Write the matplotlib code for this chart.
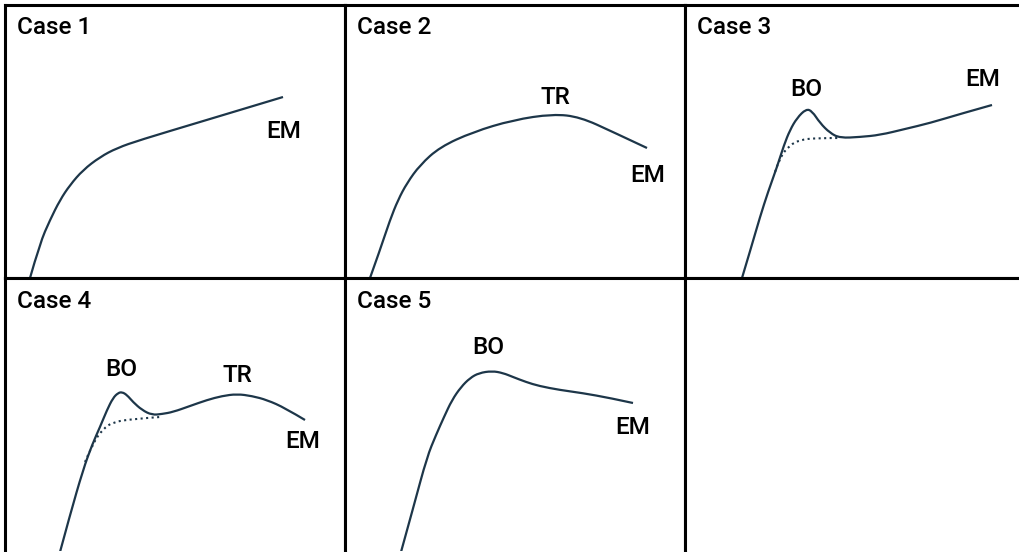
import matplotlib.pyplot as plt
from matplotlib.path import Path
from matplotlib.patches import PathPatch
import numpy as np

# curve points, in pixel units inside each panel (y grows downward)
case1_x = [25, 35, 45, 55, 65, 78, 95, 112, 135, 195, 278]
case1_y = [273, 238, 215, 195, 180, 165, 152, 143, 135, 117, 92]

case2_x = [25, 35, 45, 53, 62, 75, 95, 128, 168, 208, 235, 268, 302]
case2_y = [273, 245, 215, 195, 178, 160, 142, 127, 115, 109, 112, 127, 143]

case3_x = [57, 66, 75, 83, 92, 99, 105, 112, 121, 127, 135, 145, 155, 175, 195, 220, 245, 275, 307]
case3_y = [273, 243, 212, 187, 162, 140, 125, 113, 104, 106, 118, 128, 133, 132, 130, 124, 118, 109, 100]
case3_dot_x = [90, 95, 105, 115, 130, 155]
case3_dot_y = [167, 152, 140, 135, 133, 133]

case4_x = [55, 65, 78, 87, 95, 102, 108, 113, 117, 122, 128, 137, 147, 157, 168, 185, 202, 217, 232, 247, 262, 280, 300]
case4_y = [274, 237, 192, 167, 149, 132, 120, 115, 114, 117, 124, 132, 137, 136, 134, 128, 122, 118, 116, 118, 122, 130, 142]
case4_dot_x = [80, 88, 98, 108, 128, 155]
case4_dot_y = [184, 165, 151, 144, 141, 139]

case5_x = [56, 69, 82, 91, 99, 107, 116, 125, 134, 147, 158, 168, 181, 194, 215, 237, 265, 288]
case5_y = [274, 227, 179, 157, 139, 122, 109, 100, 95, 93, 95, 99, 104, 108, 112, 115, 120, 125]

titles = ['Case 1', 'Case 2', 'Case 3', 'Case 4', 'Case 5', '']
labels = [
    [('EM', 279, 127)],
    [('TR', 210, 92), ('EM', 303, 170)],
    [('BO', 121, 85), ('EM', 298, 75)],
    [('BO', 116, 92), ('TR', 232, 97), ('EM', 298, 163)],
    [('BO', 143, 70), ('EM', 288, 150)],
    [],
]
solid = [(case1_x, case1_y), (case2_x, case2_y), (case3_x, case3_y),
         (case4_x, case4_y), (case5_x, case5_y), None]
dotted = [None, None, (case3_dot_x, case3_dot_y), (case4_dot_x, case4_dot_y), None, None]


def smooth_path(xs, ys):
    # quadratic bezier through the midpoints, read points act as control points
    p = np.column_stack([xs, ys]).astype(float)
    verts = [p[0]]
    codes = [Path.MOVETO]
    n = len(p)
    for i in range(1, n - 1):
        end = p[i + 1] if i == n - 2 else (p[i] + p[i + 1]) / 2
        verts += [p[i], end]
        codes += [Path.CURVE3, Path.CURVE3]
    if n == 2:
        verts.append(p[1])
        codes.append(Path.LINETO)
    return Path(verts, codes)


plt.rcParams['font.family'] = ['Roboto', 'DejaVu Sans']
clr = '#1d3649'
W, H = 1019, 552
pw, ph = 340, 273

fig = plt.figure(figsize=(W / 100, H / 100), dpi=100)
for i in range(6):
    r, c = divmod(i, 3)
    left = 5 + pw * c
    top = 5 + ph * r
    ax = fig.add_axes([left / W, 1 - (top + ph) / H, pw / W, ph / H])
    ax.set_xlim(0, pw)
    ax.set_ylim(ph, 0)
    ax.set_xticks([])
    ax.set_yticks([])
    for s in ax.spines.values():
        s.set_linewidth(2.2)
        s.set_color('black')
    if r == 1:
        ax.spines['bottom'].set_visible(False)
    if c == 2:
        ax.spines['right'].set_visible(False)
    if solid[i] is not None:
        ax.add_patch(PathPatch(smooth_path(*solid[i]), fill=False, ec=clr, lw=1.6,
                               capstyle='butt', joinstyle='round'))
    if dotted[i] is not None:
        ax.add_patch(PathPatch(smooth_path(*dotted[i]), fill=False, ec=clr, lw=1.5, ls=':'))
    if titles[i]:
        ax.text(12, 23, titles[i], fontsize=17.5, fontweight='medium', va='center',
                ha='left', color='black')
    for txt, x, y in labels[i]:
        ax.text(x, y, txt, fontsize=17.5, fontweight='medium', va='center',
                ha='center', color='black')

plt.savefig('out.png', dpi=100)
